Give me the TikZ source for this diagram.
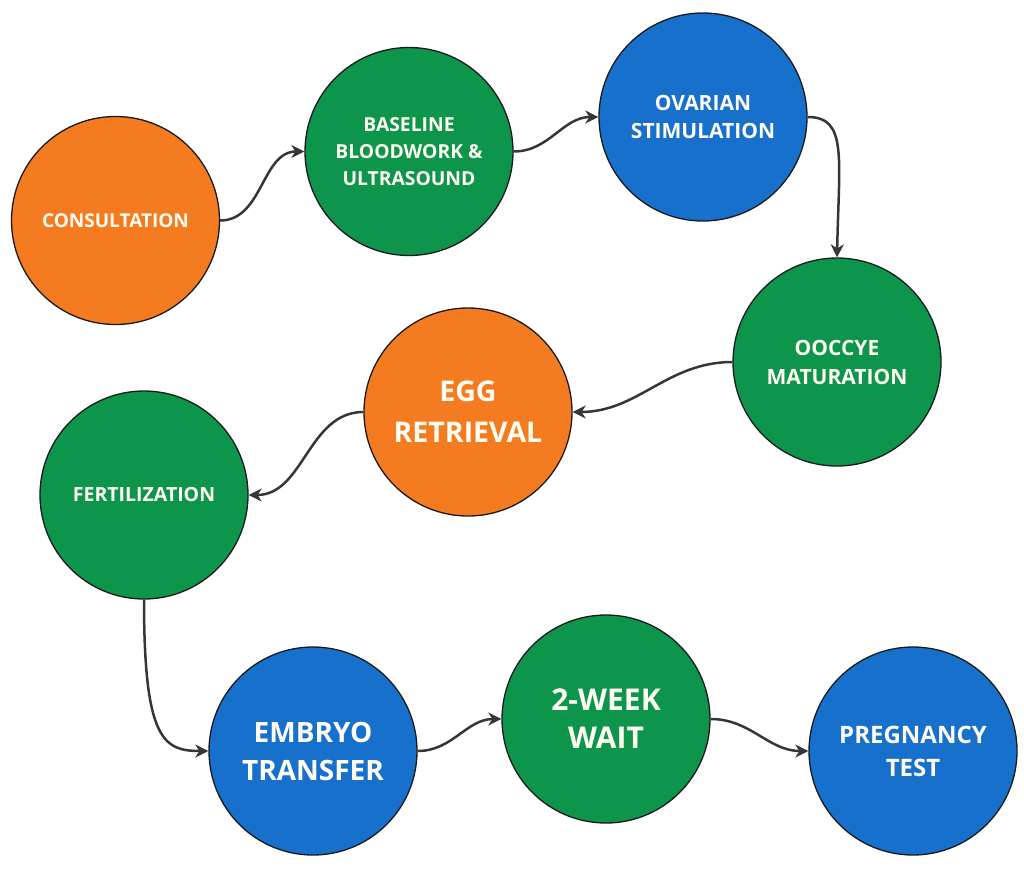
\documentclass[tikz,border=0pt]{standalone}
\usepackage{fontspec}
\setmainfont{Open Sans}
\usetikzlibrary{arrows.meta}
\definecolor{cOrange}{HTML}{F47B20}
\definecolor{cGreen}{HTML}{0D954C}
\definecolor{cBlue}{HTML}{1670CC}
\definecolor{cEdge}{HTML}{1A1A1A}
\definecolor{cArrow}{HTML}{363636}
\definecolor{cText}{HTML}{FFFDF2}
\tikzset{
  stage/.style={circle, draw=cEdge, line width=1.3pt, minimum size=208pt, inner sep=0pt,
    align=center, text=cText},
  orangestage/.style={stage, fill=cOrange},
  greenstage/.style={stage, fill=cGreen},
  bluestage/.style={stage, fill=cBlue},
  fs/.style 2 args={font=\bfseries\fontsize{#1}{#2}\selectfont},
  flow/.style={draw=cArrow, line width=2.5pt, -{Stealth[length=13pt,width=13pt,inset=4pt]}},
}
\begin{document}
\begin{tikzpicture}[x=1pt,y=-1pt]
\useasboundingbox (0,0) rectangle (1024,870);
\fill[white] (0,0) rectangle (1024,870);
\node[orangestage, fs={19}{22}] (cons) at (115.5,220.5) {CONSULTATION};
\node[greenstage, fs={19.3}{27}] (base) at (409,151.5) {BASELINE\\BLOODWORK \&\\ULTRASOUND};
\node[bluestage, fs={21}{28}] (ovar) at (703,117) {OVARIAN\\STIMULATION};
\node[greenstage, fs={21}{29}] (ooc) at (837,362) {OOCCYE\\MATURATION};
\node[orangestage, fs={28.5}{41}] (egg) at (468,412) {EGG\\RETRIEVAL};
\node[greenstage, fs={19.5}{22}] (fert) at (144,495) {FERTILIZATION};
\node[bluestage, fs={28}{38}] (emb) at (313,751) {EMBRYO\\TRANSFER};
\node[greenstage, fs={30}{38}] (wait) at (606,719) {2-WEEK\\WAIT};
\node[bluestage, fs={24}{33}] (preg) at (913,751) {PREGNANCY\\TEST};

\draw[flow] (cons.east) to[out=0,in=180] (base.west);
\draw[flow] (base.east) to[out=0,in=180] (ovar.west);
\draw[flow] (ovar.east) .. controls +(40,0) and +(2,-100) .. (ooc.north);
\draw[flow] (ooc.west) to[out=180,in=0] (egg.east);
\draw[flow] (egg.west) to[out=180,in=0] (fert.east);
\draw[flow] (fert.south) .. controls +(0,140) and +(-45,0) .. (emb.west);
\draw[flow] (emb.east) to[out=0,in=180] (wait.west);
\draw[flow] (wait.east) to[out=0,in=180] (preg.west);
\end{tikzpicture}
\end{document}
